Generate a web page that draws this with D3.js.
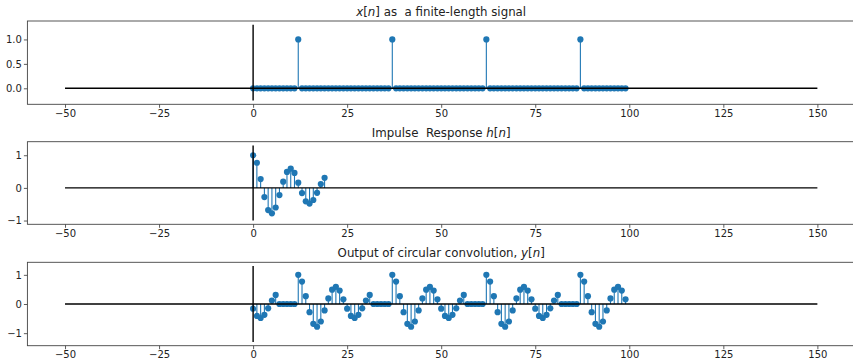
<!DOCTYPE html>
<html>
<head>
<meta charset="utf-8">
<script src="https://cdn.jsdelivr.net/npm/d3@7"></script>
<style>
  body { margin: 0; background: #fff; }
  text { font-family: "DejaVu Sans", sans-serif; white-space: pre; }
</style>
</head>
<body>
<div id="chart"></div>
<script>
// sample index n = 0..99
const nIdx = d3.range(100);

// x[n]: unit impulses in a 100-sample block
const xSignal = [
  0, 0, 0, 0, 0, 0, 0, 0, 0, 0, 0, 0, 1, 0, 0, 0, 0, 0, 0, 0,
  0, 0, 0, 0, 0, 0, 0, 0, 0, 0, 0, 0, 0, 0, 0, 0, 0, 1, 0, 0,
  0, 0, 0, 0, 0, 0, 0, 0, 0, 0, 0, 0, 0, 0, 0, 0, 0, 0, 0, 0,
  0, 0, 1, 0, 0, 0, 0, 0, 0, 0, 0, 0, 0, 0, 0, 0, 0, 0, 0, 0,
  0, 0, 0, 0, 0, 0, 0, 1, 0, 0, 0, 0, 0, 0, 0, 0, 0, 0, 0, 0
];

// h[n]: impulse response, n = 0..19
const hSignal = [
  1.0, 0.77, 0.27, -0.28, -0.68, -0.78, -0.6, -0.22, 0.19, 0.49,
  0.59, 0.46, 0.16, -0.16, -0.41, -0.48, -0.37, -0.15, 0.12, 0.31
];

// y[n]: circular convolution output, n = 0..99
const ySignal = [
  -0.16, -0.41, -0.48, -0.37, -0.15, 0.12, 0.31, 0, 0, 0,
  0, 0, 1.0, 0.77, 0.27, -0.28, -0.68, -0.78, -0.6, -0.22,
  0.19, 0.49, 0.59, 0.46, 0.16, -0.16, -0.41, -0.48, -0.37, -0.15,
  0.12, 0.31, 0, 0, 0, 0, 0, 1.0, 0.77, 0.27,
  -0.28, -0.68, -0.78, -0.6, -0.22, 0.19, 0.49, 0.59, 0.46, 0.16,
  -0.16, -0.41, -0.48, -0.37, -0.15, 0.12, 0.31, 0, 0, 0,
  0, 0, 1.0, 0.77, 0.27, -0.28, -0.68, -0.78, -0.6, -0.22,
  0.19, 0.49, 0.59, 0.46, 0.16, -0.16, -0.41, -0.48, -0.37, -0.15,
  0.12, 0.31, 0, 0, 0, 0, 0, 1.0, 0.77, 0.27,
  -0.28, -0.68, -0.78, -0.6, -0.22, 0.19, 0.49, 0.59, 0.46, 0.16
];

const xTicks = [-50, -25, 0, 25, 50, 75, 100, 125, 150];

// panels: title parts (plain / italic), values, y ticks, reference-line extents
const panels = [
  {
    title: [['', 'x'], ['[', ''], ['', 'n'], ['] as  a finite-length signal', '']],
    values: xSignal, yTicks: [0, 0.5, 1], fmt: d3.format('.1f'),
    vline: [-0.25, 1.3], top: 21, bottom: 104.3
  },
  {
    title: [['Impulse  Response ', ''], ['', 'h'], ['[', ''], ['', 'n'], [']', '']],
    values: hSignal, yTicks: [-1, 0, 1], fmt: d3.format('d'),
    vline: [-1, 1.3], top: 141.7, bottom: 224.3
  },
  {
    title: [['Output of circular convolution, ', ''], ['', 'y'], ['[', ''], ['', 'n'], [']', '']],
    values: ySignal, yTicks: [-1, 0, 1], fmt: d3.format('d'),
    vline: [-1.3, 1.3], top: 262.3, bottom: 345.7
  }
];

const W = 853, H = 361;
const left = 27.4, right = 855;
const blue = '#1f77b4';

const svg = d3.select('#chart').append('svg')
  .attr('width', W).attr('height', H);

const x = d3.scaleLinear().domain([-60, 160]).range([left, right]);

panels.forEach((p) => {
  // ylim = vertical reference line extent + 5% margin (matplotlib style)
  const lo = Math.min(p.vline[0], d3.min(p.values));
  const hi = Math.max(p.vline[1], d3.max(p.values));
  const m = (hi - lo) * 0.05;
  const y = d3.scaleLinear().domain([lo - m, hi + m]).range([p.bottom, p.top]);

  const g = svg.append('g');

  // stems
  g.selectAll('line.stem')
    .data(nIdx.slice(0, p.values.length))
    .enter().append('line')
    .attr('class', 'stem')
    .attr('x1', (d) => x(d)).attr('x2', (d) => x(d))
    .attr('y1', y(0)).attr('y2', (d) => y(p.values[d]))
    .attr('stroke', blue).attr('stroke-width', 1.1);

  // markers
  g.selectAll('circle')
    .data(nIdx.slice(0, p.values.length))
    .enter().append('circle')
    .attr('cx', (d) => x(d))
    .attr('cy', (d) => y(p.values[d]))
    .attr('r', 3.1)
    .attr('fill', blue);

  // black axis lines drawn on top
  g.append('line')
    .attr('x1', x(-50)).attr('x2', x(150))
    .attr('y1', y(0)).attr('y2', y(0))
    .attr('stroke', '#000').attr('stroke-width', 1.4);
  g.append('line')
    .attr('x1', x(0)).attr('x2', x(0))
    .attr('y1', y(p.vline[0])).attr('y2', y(p.vline[1]))
    .attr('stroke', '#000').attr('stroke-width', 1.4);

  // axes
  const xAxis = g.append('g')
    .attr('transform', `translate(0,${p.bottom})`)
    .call(d3.axisBottom(x).tickValues(xTicks).tickSize(3.5).tickPadding(2)
      .tickFormat((d) => (d < 0 ? '\u2212' + Math.abs(d) : d)));
  const yAxis = g.append('g')
    .attr('transform', `translate(${left},0)`)
    .call(d3.axisLeft(y).tickValues(p.yTicks).tickSize(3.5).tickPadding(2)
      .tickFormat((d) => {
        const s = p.fmt(d);
        return s.replace('-', '\u2212');
      }));
  [xAxis, yAxis].forEach((a) => {
    a.select('.domain').remove();
    a.selectAll('line').attr('stroke', '#333').attr('stroke-width', 0.8);
    a.selectAll('text').attr('font-size', 10).attr('fill', '#222')
      .attr('font-family', 'DejaVu Sans, sans-serif');
  });

  // frame
  g.append('rect')
    .attr('x', left).attr('y', p.top)
    .attr('width', right - left).attr('height', p.bottom - p.top)
    .attr('fill', 'none').attr('stroke', '#444').attr('stroke-width', 0.9);

  // title
  const t = g.append('text')
    .attr('x', (left + right) / 2)
    .attr('y', p.top - 5)
    .attr('text-anchor', 'middle')
    .attr('font-size', 11.8)
    .attr('fill', '#222');
  p.title.forEach(([plain, ital]) => {
    if (plain) t.append('tspan').text(plain);
    if (ital) t.append('tspan').attr('font-style', 'italic').text(ital);
  });
});
</script>
</body>
</html>
